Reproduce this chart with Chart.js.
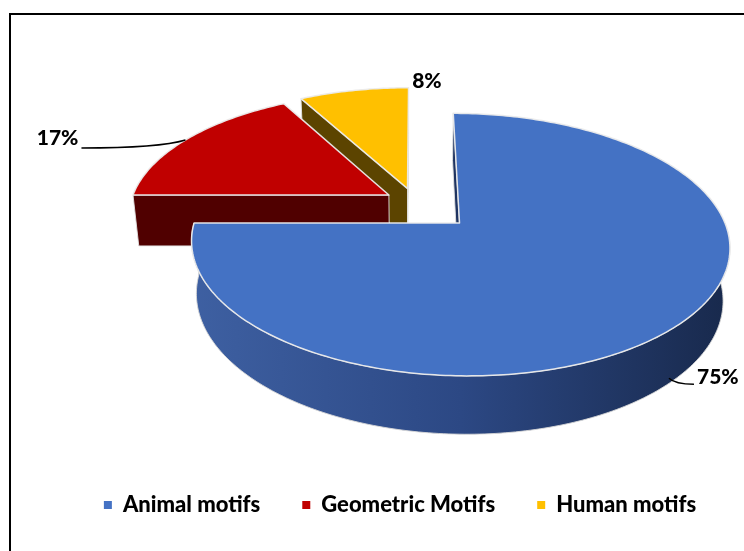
<!DOCTYPE html>
<html>
<head>
<meta charset="utf-8">
<script src="https://cdn.jsdelivr.net/npm/chart.js@4.4.1/dist/chart.umd.min.js"></script>
<style>
  html, body { margin: 0; padding: 0; background: #fff; }
  #frame { position: absolute; left: 9px; top: 13px; width: 800px; height: 600px;
           border-top: 2px solid #000; border-left: 2px solid #000; }
  #wrap { position: absolute; left: 0; top: 0; width: 744px; height: 551px; }
</style>
</head>
<body>
<div id="frame"></div>
<div id="wrap"><canvas id="chart" width="744" height="551"></canvas></div>
<script>
// datos
const categories = ['Animal motifs', 'Geometric Motifs', 'Human motifs'];
const shares = [75, 17, 8];
const pctLabels = ['75%', '17%', '8%'];
const topColors = ['#4472C4', '#C00000', '#FFC000'];
const wallColors = [['#3e60a2', '#2c4884', '#18294c'], ['#520000'], ['#5e4500']];
const faceColors = ['#1f3461', '#500000', '#5c4400'];
const explode = [60, 30, 30];

// vista 3D (inclinacion, distancia de camara, grosor)
const view = { sin: 0.5, dist: 1400, depth: 58 };

// donde van las etiquetas de porcentaje
const labelSpots = [
  { angle: 46, h: 0.1, dx: 25, dy: 6, ty: -7, align: 'left', line: true },
  { angle: 210, h: 1, dx: -104, dy: 8, ty: -10, align: 'right', line: true },
  { angle: 272, h: 1, dx: -4, dy: -7, ty: 0, align: 'left', line: false }
];

const pie3d = {
  id: 'pie3d',
  beforeDatasetsDraw(chart) {
    const ctx = chart.ctx;
    const arcs = chart.getDatasetMeta(0).data;
    const s = view.sin, c = Math.sqrt(1 - s * s), D = view.dist, H = view.depth;
    const cx = arcs[0].x, cy = arcs[0].y;
    const proj = (u, w, h) => {
      const f = D / (D - (w * c + h * s));
      return [cx + u * f, cy + (w * s - h * c) * f];
    };
    const slices = arcs.map((el, i) => {
      const mid = (el.startAngle + el.endAngle) / 2;
      const off = el.options.offset || 0;
      return { i, a0: el.startAngle, a1: el.endAngle, r: el.outerRadius,
               ou: Math.cos(mid) * off, ow: Math.sin(mid) * off, color: el.options.backgroundColor };
    });
    const rim = (sl, a0, a1, h) => {
      const pts = [];
      const n = Math.max(2, Math.ceil(Math.abs(a1 - a0) * 60));
      for (let k = 0; k <= n; k++) {
        const a = a0 + (a1 - a0) * k / n;
        pts.push(proj(sl.ou + sl.r * Math.cos(a), sl.ow + sl.r * Math.sin(a), h));
      }
      return pts;
    };
    const poly = (pts) => {
      ctx.beginPath();
      pts.forEach((p, k) => k ? ctx.lineTo(p[0], p[1]) : ctx.moveTo(p[0], p[1]));
      ctx.closePath();
    };

    ctx.save();
    ctx.lineJoin = 'round';
    // de atras hacia adelante
    slices.slice().sort((a, b) => a.ow - b.ow).forEach(sl => {
      // caras planas
      [[sl.a0, sl.a0 - Math.PI / 2], [sl.a1, sl.a1 + Math.PI / 2]].forEach(([a, na]) => {
        const pu = sl.ou + sl.r / 2 * Math.cos(a), pw = sl.ow + sl.r / 2 * Math.sin(a);
        const vis = Math.cos(na) * (-pu) + Math.sin(na) * (D * c - pw);
        if (vis <= 0) return;
        const ru = sl.ou + sl.r * Math.cos(a), rw = sl.ow + sl.r * Math.sin(a);
        poly([proj(sl.ou, sl.ow, H), proj(ru, rw, H), proj(ru, rw, 0), proj(sl.ou, sl.ow, 0)]);
        ctx.fillStyle = faceColors[sl.i];
        ctx.fill();
        ctx.strokeStyle = 'rgba(225,225,225,0.9)';
        ctx.lineWidth = 1;
        ctx.stroke();
      });
      // pared curva frontal
      for (let k = -1; k <= 1; k++) {
        const lo = Math.max(sl.a0, 2 * Math.PI * k), hi = Math.min(sl.a1, 2 * Math.PI * k + Math.PI);
        if (hi <= lo) continue;
        const top = rim(sl, lo, hi, H), bot = rim(sl, hi, lo, 0);
        const pts = top.concat(bot);
        const xs = pts.map(p => p[0]);
        const x0 = Math.min(...xs), x1 = Math.max(...xs);
        const cols = wallColors[sl.i];
        let fill = cols[0];
        if (cols.length > 1) {
          fill = ctx.createLinearGradient(x0, 0, x1, 0);
          cols.forEach((col, j) => fill.addColorStop(j / (cols.length - 1), col));
        }
        poly(pts);
        ctx.fillStyle = fill;
        ctx.fill();
        ctx.strokeStyle = 'rgba(215,215,215,0.9)';
        ctx.lineWidth = 1;
        ctx.stroke();
      }
      // cara superior
      poly([proj(sl.ou, sl.ow, H)].concat(rim(sl, sl.a0, sl.a1, H)));
      ctx.fillStyle = sl.color;
      ctx.fill();
      ctx.strokeStyle = 'rgba(235,235,235,0.95)';
      ctx.lineWidth = 1.5;
      ctx.stroke();
    });

    // etiquetas
    ctx.font = '900 21px Lato';
    ctx.fillStyle = '#000';
    ctx.strokeStyle = '#000';
    ctx.lineWidth = 1.5;
    ctx.textBaseline = 'middle';
    slices.forEach(sl => {
      const spot = labelSpots[sl.i];
      const a = spot.angle * Math.PI / 180;
      const p = proj(sl.ou + sl.r * Math.cos(a), sl.ow + sl.r * Math.sin(a), H * spot.h);
      const e = [p[0] + spot.dx, p[1] + spot.dy];
      if (spot.line) {
        ctx.beginPath();
        ctx.moveTo(p[0], p[1]);
        ctx.quadraticCurveTo(p[0] + spot.dx * 0.25, e[1], e[0], e[1]);
        ctx.stroke();
      }
      ctx.textAlign = spot.align;
      const tx = spot.line ? e[0] + (spot.align === 'left' ? 3 : -3) : e[0];
      ctx.fillText(pctLabels[sl.i], tx, e[1] + spot.ty);
    });
    ctx.restore();
    return false;
  }
};

new Chart(document.getElementById('chart'), {
  type: 'pie',
  data: {
    labels: categories,
    datasets: [{
      data: shares,
      backgroundColor: topColors,
      borderWidth: 0,
      offset: explode,
      radius: 253
    }]
  },
  options: {
    responsive: false,
    animation: false,
    layout: { padding: { left: 56, right: 0, top: 55, bottom: 25 } },
    plugins: {
      tooltip: { enabled: false },
      // caja vacia a la izquierda: corre el pastel sin mover la leyenda
      title: {
        display: true,
        position: 'left',
        text: ' ',
        color: 'rgba(0,0,0,0)',
        font: { size: 10 },
        padding: { top: 9, bottom: 9 }
      },
      legend: {
        position: 'bottom',
        labels: {
          boxWidth: 8,
          boxHeight: 8,
          padding: 42,
          color: '#000',
          font: { family: 'Lato', size: 22, weight: '900' }
        }
      }
    }
  },
  plugins: [pie3d]
});
</script>
</body>
</html>
